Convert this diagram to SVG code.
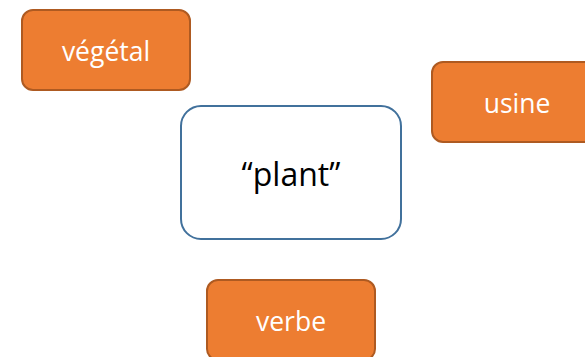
<svg xmlns="http://www.w3.org/2000/svg" width="585" height="357" viewBox="0 0 585 357">
  <style>
    .word rect { fill: #ED7D31; stroke: #AE5A21; stroke-width: 2; }
    .word text { fill: #FFFFFF; font-size: 26.5px; }
    .center rect { fill: #FFFFFF; stroke: #41719C; stroke-width: 2; }
    .center text { fill: #000000; font-size: 32px; }
    text { font-family: "Open Sans", "Liberation Sans", sans-serif; text-anchor: middle; }
  </style>
  <rect width="585" height="357" fill="#FFFFFF"/>
  <g id="connectors"></g>
  <g id="node-vegetal" class="word">
    <rect x="22" y="10" width="168" height="80" rx="11"/>
    <text x="106" y="61">végétal</text>
  </g>
  <g id="node-usine" class="word">
    <rect x="432" y="62" width="170" height="80" rx="11"/>
    <text x="517" y="113">usine</text>
  </g>
  <g id="node-plant" class="center">
    <rect x="181" y="106" width="220" height="133" rx="20"/>
    <text x="291" y="186">“plant”</text>
  </g>
  <g id="node-verbe" class="word">
    <rect x="207" y="280" width="168" height="80" rx="11"/>
    <text x="291" y="331">verbe</text>
  </g>
</svg>
